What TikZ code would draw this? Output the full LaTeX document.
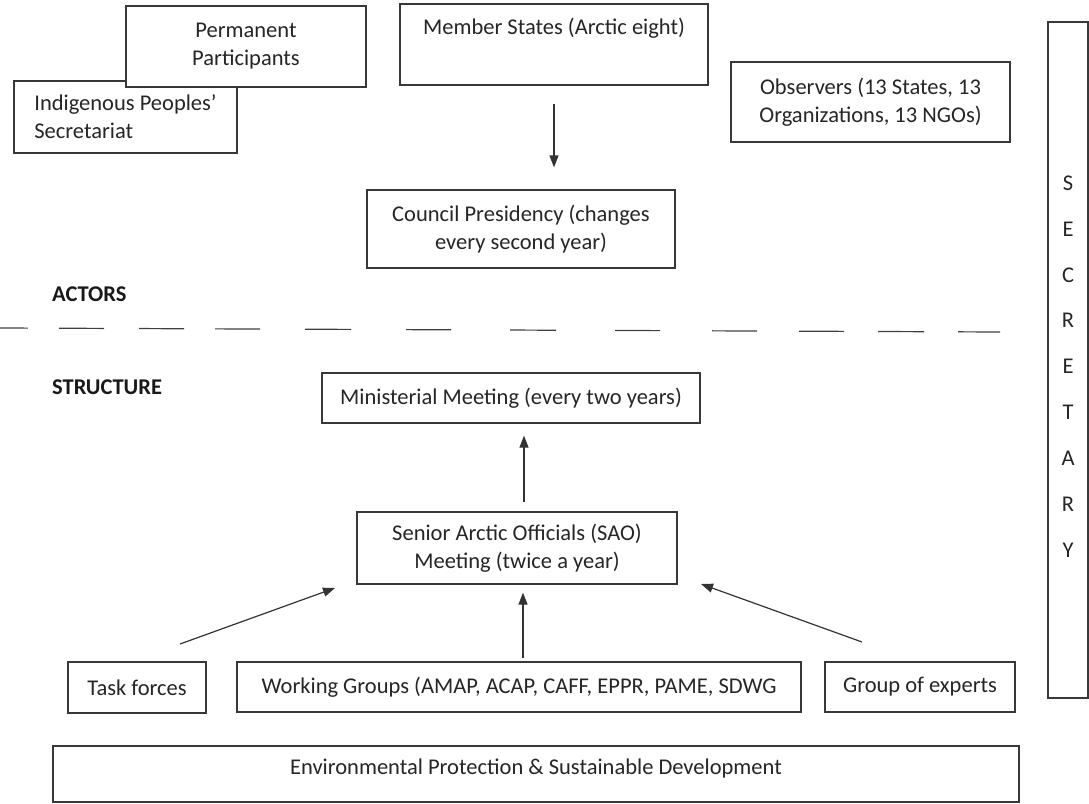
\documentclass[tikz,border=0pt]{standalone}
\usepackage{fontspec}
\setmainfont{Carlito}
\usetikzlibrary{arrows.meta,calc}
\begin{document}
\begin{tikzpicture}[x=1pt,y=-1pt,
  box/.style={draw=black!78, line width=1.2pt, fill=white, inner sep=0pt, align=center,
    font=\fontsize{22.5}{28}\selectfont, text=black!85},
  lbl/.style={inner sep=0pt, align=center, font=\fontsize{22.5}{28}\selectfont, text=black!85},
  head/.style={inner sep=0pt, anchor=west, font=\fontsize{22.5}{28}\selectfont\bfseries, text=black!90},
  arr/.style={draw=black!80, line width=1.2pt, -{Triangle[length=12pt,width=9pt]}},
]
\useasboundingbox (0,0) rectangle (1089,803);

% actors
\node[box, minimum width=223pt, minimum height=72pt, align=left] (ips) at (125.5,117)
  {Indigenous Peoples'\\Secretariat};
\node[box, minimum width=240pt, minimum height=81pt] (pp) at (246,46.5)
  {Permanent\\Participants};
\node[box, minimum width=308pt, minimum height=81pt] (ms) at (554,44.5) {};
\node[lbl] (msl) at (554,28) {Member States (Arctic eight)};
\node[box, minimum width=279pt, minimum height=80pt] (obs) at (870.5,102)
  {Observers (13 States, 13\\Organizations, 13 NGOs)};
\node[box, minimum width=308pt, minimum height=78pt] (cp) at (521,229)
  {Council Presidency (changes\\every second year)};
\draw[arr, shorten <=18pt, shorten >=22pt] (ms.south) -- (ms.south |- cp.north);

% secretary
\node[box, minimum width=40pt, minimum height=676pt] (sec) at (1068,360) {};
\node[lbl, font=\fontsize{22.5}{45.9}\selectfont] (secl) at (1068,366.5)
  {S\\E\\C\\R\\E\\T\\A\\R\\Y};

% headings and divider
\node[head] (actors) at (52,294) {ACTORS};
\node[head] (structure) at (52,387) {STRUCTURE};
\coordinate (dl) at (0,328);
\coordinate (dr) at (1002,332);
\draw[black!75, line width=1.2pt,
  dash pattern=on 28pt off 31pt on 45pt off 35pt on 45pt off 31pt on 45pt off 45pt
  on 46pt off 55pt on 45pt off 59pt on 46pt off 59pt on 45pt off 52pt on 45pt off 42pt
  on 45pt off 34pt on 46pt off 34pt on 42pt off 10pt] (dl) -- (dr);

% structure
\node[box, minimum width=378pt, minimum height=50pt] (mm) at (511,398)
  {Ministerial Meeting (every two years)};
\node[box, minimum width=320pt, minimum height=72pt] (sao) at (517,548)
  {Senior Arctic Officials (SAO)\\Meeting (twice a year)};
\draw[arr, shorten <=9pt, shorten >=12pt] ([xshift=7pt]sao.north) -- ([xshift=7pt]sao.north |- mm.south);

\node[box, minimum width=138pt, minimum height=51pt] (tf) at (137,687.5) {Task forces};
\node[box, minimum width=564pt, minimum height=50pt] (wg) at (519,687)
  {Working Groups (AMAP, ACAP, CAFF, EPPR, PAME, SDWG};
\node[box, minimum width=190pt, minimum height=50pt] (goe) at (920,687) {Group of experts};

\coordinate (tfa) at (180,644);
\coordinate (saol) at (335,588);
\coordinate (goea) at (862,642);
\coordinate (saor) at (701,584);
\draw[arr] (tfa) -- (saol);
\draw[arr] (goea) -- (saor);
\draw[arr, shorten <=3pt, shorten >=8pt] ([xshift=4pt]wg.north) -- ([xshift=4pt]wg.north |- sao.south);

\node[box, minimum width=966pt, minimum height=56pt] (env) at (536,774) {};
\node[lbl] (envl) at (536,768) {Environmental Protection \& Sustainable Development};
\end{tikzpicture}
\end{document}
